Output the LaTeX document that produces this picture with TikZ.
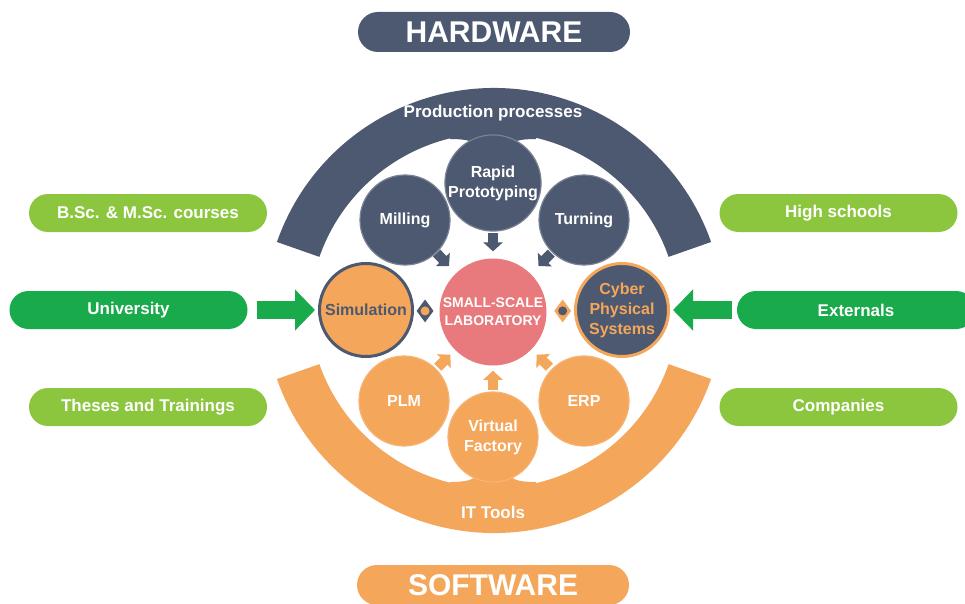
\documentclass[tikz,border=0pt]{standalone}
\usepackage{fontspec}
\setmainfont{Liberation Sans}
\usetikzlibrary{calc,arrows.meta,shapes.geometric}
\definecolor{slate}{RGB}{77,89,112}
\definecolor{orng}{RGB}{244,166,90}
\definecolor{pinkc}{RGB}{232,121,124}
\definecolor{lgreen}{RGB}{140,198,63}
\definecolor{dgreen}{RGB}{24,170,75}
\begin{document}
\begin{tikzpicture}[x=1pt,y=-1pt,
  pill/.style={rectangle, rounded corners=19pt, minimum height=38pt, minimum width=238pt, inner sep=0pt, text=white, font=\fontsize{17}{20}\selectfont\bfseries},
  lg/.style={pill, fill=lgreen},
  dg/.style={pill, fill=dgreen},
  head/.style={rectangle, rounded corners=20pt, minimum height=40pt, minimum width=272pt, inner sep=0pt, text=white, font=\fontsize{30}{34}\selectfont\bfseries},
  circ/.style={circle, minimum size=90pt, inner sep=0pt, align=center, font=\fontsize{16}{20}\selectfont\bfseries},
  dcirc/.style={circ, fill=slate, draw=slate!75!white, line width=1.2pt, text=white},
  ocirc/.style={circ, fill=orng, draw=orng!85!white, line width=1.2pt, text=white},
  band/.style={text=white, font=\fontsize{17}{20}\selectfont\bfseries},
  harr/.style={slate, line width=10pt, -{Triangle[length=9pt,width=19pt]}},
  oarr/.style={orng, line width=10pt, -{Triangle[length=9pt,width=19pt]}},
  garr/.style={dgreen, line width=18pt, -{Triangle[length=20pt,width=40pt]}},
  conn/.style={diamond, minimum width=17pt, minimum height=23pt, inner sep=0pt},
  dot/.style={circle, minimum size=9pt, inner sep=0pt}
]
\useasboundingbox (0,0) rectangle (965,604);
\fill[white] (0,0) rectangle (965,604);
\clip (0,0) rectangle (965,604);

% arcs
\fill[slate] (494,318) ++(199.3:230) arc[start angle=199.3, end angle=340.7, radius=230]
  -- ($(494,318)+(340.7:185)$) arc[start angle=340.7, end angle=199.3, radius=185] -- cycle;
\fill[orng] (494,303) ++(160.7:230) arc[start angle=160.7, end angle=19.3, radius=230]
  -- ($(494,303)+(19.3:185)$) arc[start angle=19.3, end angle=160.7, radius=185] -- cycle;
% necks
\fill[slate] (450,128) -- (450,139) .. controls (466,139) and (472,141) .. (476,145) -- (510,145) .. controls (514,141) and (520,139) .. (536,139) -- (536,128) -- cycle;
\fill[orng] (450,493) -- (450,482) .. controls (466,482) and (472,480) .. (476,476) -- (510,476) .. controls (514,480) and (520,482) .. (536,482) -- (536,493) -- cycle;

\node[band] (pp) at (493,113) {Production processes};
\node[band] (itt) at (493,512) {IT Tools};

% headers
\node[head, fill=slate] (hw) at (494,32) {HARDWARE};
\node[head, fill=orng] (sw) at (493,585) {SOFTWARE};

% circles
\node[dcirc] (rp) at (493,183) {Rapid\\Prototyping};
\node[dcirc] (mill) at (405,220) {Milling};
\node[dcirc] (turn) at (584,220) {Turning};
\node[ocirc] (plm) at (404,401) {PLM};
\node[ocirc] (erp) at (584,401) {ERP};
\node[ocirc] (vf) at (493,437) {Virtual\\Factory};
\node[circ, fill=pinkc, minimum size=107pt, text=white, font=\fontsize{14}{18}\selectfont\bfseries] (lab) at (493,312) {SMALL-SCALE\\LABORATORY};
\node[circ, fill=orng, draw=slate, line width=3pt, minimum size=93pt, text=slate] (sim) at (366,310) {Simulation};
\node[circ, fill=slate, draw=orng, line width=3pt, minimum size=93pt, text=orng] (cps) at (622,310) {Cyber\\Physical\\Systems};

% small arrows
\draw[harr] ($(rp)!0.39!(lab)$) -- ($(rp)!0.53!(lab)$);
\draw[harr] ($(mill)!0.36!(lab)$) -- ($(mill)!0.50!(lab)$);
\draw[harr] ($(turn)!0.36!(lab)$) -- ($(turn)!0.50!(lab)$);
\draw[oarr] ($(vf)!0.38!(lab)$) -- ($(vf)!0.53!(lab)$);
\draw[oarr] ($(plm)!0.38!(lab)$) -- ($(plm)!0.52!(lab)$);
\draw[oarr] ($(erp)!0.38!(lab)$) -- ($(erp)!0.52!(lab)$);

\node[conn, fill=slate] (dl) at ($(sim)!0.465!(lab)$) {};
\node[dot, fill=orng] (dlc) at (dl.center) {};
\node[conn, fill=orng] (dr) at ($(cps)!0.46!(lab)$) {};
\node[dot, fill=slate] (drc) at (dr.center) {};

% side boxes
\node[lg] (bsc) at (148,213) {B.Sc. \& M.Sc. courses};
\node[dg] (univ) at (128.5,310) {University};
\node[lg] (thes) at (148,407) {Theses and Trainings};
\node[lg] (hs) at (838.5,213) {High schools};
\node[dg] (ext) at (856,310) {Externals};
\node[lg] (comp) at (838.5,407) {Companies};

\draw[garr] ([xshift=9pt]univ.east) -- ([xshift=-3pt]sim.west);
\draw[garr] ([xshift=-5pt]ext.west) -- ([xshift=3pt]cps.east);
\end{tikzpicture}
\end{document}
